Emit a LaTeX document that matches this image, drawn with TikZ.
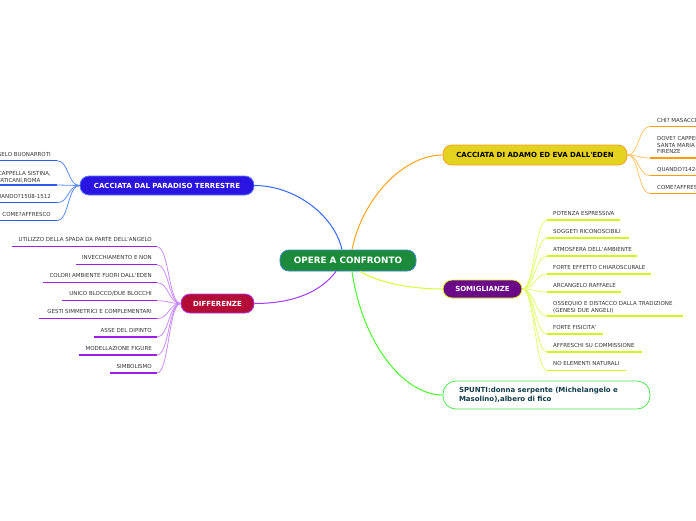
\documentclass[tikz,border=0pt]{standalone}
\usepackage{fontspec}
\setmainfont{DejaVu Sans}
\definecolor{cgreen}{HTML}{1C8A3B}
\definecolor{cgreenb}{HTML}{3C86C8}
\definecolor{pblue}{HTML}{2A14E2}
\definecolor{pblueb}{HTML}{5A78FF}
\definecolor{eyel}{HTML}{E5D21E}
\definecolor{eyelb}{HTML}{F7A21B}
\definecolor{spur}{HTML}{6B0A88}
\definecolor{spurb}{HTML}{D8F224}
\definecolor{dred}{HTML}{B30C36}
\definecolor{dredb}{HTML}{B234F2}
\definecolor{sgr}{HTML}{4CE84C}
\definecolor{stext}{HTML}{123C48}
\definecolor{subtxt}{HTML}{333333}
\definecolor{lblue}{HTML}{3366FF}
\definecolor{lbluec}{HTML}{5B8CFF}
\definecolor{lblueu}{HTML}{2A5BE8}
\definecolor{lor}{HTML}{FFA31A}
\definecolor{lorc}{HTML}{FFC46A}
\definecolor{loru}{HTML}{FF9A0A}
\definecolor{lyg}{HTML}{D4FF2E}
\definecolor{lygc}{HTML}{E2FF6A}
\definecolor{lygu}{HTML}{D2F51E}
\definecolor{lpu}{HTML}{A23BFF}
\definecolor{lpuc}{HTML}{C98BFF}
\definecolor{lpuu}{HTML}{9B1FE6}
\definecolor{lgr}{HTML}{44FF22}
\tikzset{
  topic/.style={rounded corners=9pt, font=\bfseries\fontsize{7}{8}\selectfont, text=white, line width=0.8pt, minimum height=19pt, inner sep=0pt},
  sub/.style={font=\fontsize{5.5}{6.8}\selectfont, text=subtxt, inner sep=0pt},
  uline/.style={line width=1.4pt},
  conn/.style={line width=0.8pt},
  bigconn/.style={line width=1pt}
}
\begin{document}
\begin{tikzpicture}[x=1pt,y=-1pt]
\useasboundingbox (0,0) rectangle (696,520);
\clip (0,0) rectangle (696,520);
\fill[white] (0,0) rectangle (696,520);

% main nodes
\node[topic, fill=cgreen, draw=cgreenb, minimum width=136pt, minimum height=21pt, font=\bfseries\fontsize{8.8}{10}\selectfont] (ctr) at (348,260.5) {OPERE A CONFRONTO};
\node[topic, fill=pblue, draw=pblueb, minimum width=174pt] (par) at (167,185.5) {CACCIATA DAL PARADISO TERRESTRE};
\node[topic, fill=eyel, draw=eyelb, minimum width=184pt, minimum height=20pt, text=black] (eden) at (535,155) {CACCIATA DI ADAMO ED EVA DALL\textquotesingle EDEN};
\node[topic, fill=spur, draw=spurb, minimum width=79pt, minimum height=18pt] (som) at (482.5,289) {SOMIGLIANZE};
\node[topic, fill=dred, draw=dredb, minimum width=73pt] (dif) at (217.5,303.5) {DIFFERENZE};
\node[rounded corners=13pt, draw=sgr, fill=white, line width=0.8pt, minimum width=207pt, minimum height=28pt, text width=175pt, inner xsep=16pt, inner ysep=0pt, align=left, text=stext, font=\bfseries\fontsize{7}{8.5}\selectfont] (spu) at (546.5,395) {SPUNTI:donna serpente (Michelangelo e\\Masolino),albero di fico};

% central connectors
\draw[bigconn, lblue] ([xshift=-6pt]ctr.north) .. controls +(-8,-35) and +(40,0) .. (par.east);
\draw[bigconn, lor] ([xshift=4pt]ctr.north) .. controls +(10,-50) and +(-40,0) .. (eden.west);
\draw[bigconn, lpu] ([xshift=-12pt]ctr.south) .. controls +(-15,20) and +(40,0) .. (dif.east);
\draw[bigconn, lyg] ([xshift=12pt]ctr.south) .. controls +(20,12) and +(-30,0) .. (som.west);
\draw[bigconn, lgr] ([xshift=4pt]ctr.south) .. controls +(10,70) and +(-40,0) .. (spu.west);

% Somiglianze children
\foreach \n/\uy/\ex/\t in {
  s1/220/620/{POTENZA ESPRESSIVA},
  s2/238/629/{SOGGETI RICONOSCIBILI},
  s3/256/637/{ATMOSFERA DELL\textquotesingle AMBIENTE},
  s4/274/651/{FORTE EFFETTO CHIAROSCURALE},
  s5/292/621/{ARCANGELO RAFFAELE},
  s7/334/603/{FORTE FISICITA\textquotesingle},
  s8/352/642/{AFFRESCHI SU COMMISSIONE},
  s9/370.5/626/{NO ELEMENTI NATURALI}} {
  \coordinate (\n a) at (547,\uy);
  \coordinate (\n b) at (\ex,\uy);
  \draw[conn, lygc] (som.east) .. controls +(12,0) and +(-12,0) .. (\n a);
  \draw[uline, lygu] (\n a) -- (\n b);
  \node[sub, anchor=base west] (\n) at (553,\uy-4.8) {\t};
}
\coordinate (s6a) at (547,316);
\coordinate (s6b) at (683,316);
\draw[conn, lygc] (som.east) .. controls +(12,0) and +(-12,0) .. (s6a);
\draw[uline, lygu] (s6a) -- (s6b);
\node[sub, anchor=north west, align=left] (s6) at (553,301) {OSSEQUIO E DISTACCO DALLA TRADIZIONE\\(GENESI DUE ANGELI)};

% Differenze children
\foreach \n/\uy/\sx/\t in {
  d1/246.7/12/{UTILIZZO DELLA SPADA DA PARTE DELL\textquotesingle ANGELO},
  d2/264.7/76/{INVECCHIAMENTO E NON},
  d3/282.7/43/{COLORI AMBIENTE FUORI DALL\textquotesingle EDEN},
  d4/300.7/62/{UNICO BLOCCO/DUE BLOCCHI},
  d5/318.7/39/{GESTI SIMMETRICI E COMPLEMENTARI},
  d6/337/94/{ASSE DEL DIPINTO},
  d7/355/79/{MODELLAZIONE FIGURE},
  d8/373/110/{SIMBOLISMO}} {
  \coordinate (\n a) at (157,\uy);
  \coordinate (\n b) at (\sx,\uy);
  \draw[conn, lpuc] (dif.west) .. controls +(-12,0) and +(12,0) .. (\n a);
  \draw[uline, lpuu] (\n a) -- (\n b);
  \node[sub, anchor=base east] (\n) at (152,\uy-4.8) {\t};
}

% Paradiso children
\foreach \n/\uy/\t in {
  p1/160.7/{CHI? MICHELANGELO BUONARROTI},
  p3/202.7/{QUANDO?1508-1512},
  p4/220.7/{COME?AFFRESCO}} {
  \coordinate (\n a) at (57,\uy);
  \coordinate (\n b) at (-20,\uy);
  \draw[conn, lbluec] (par.west) .. controls +(-12,0) and +(12,0) .. (\n a);
  \draw[uline, lblueu] (\n a) -- (\n b);
  \node[sub, anchor=base east] (\n) at (51,\uy-4.5) {\t};
}
\coordinate (p2a) at (57,185);
\coordinate (p2b) at (-20,185);
\draw[conn, lbluec] (par.west) .. controls +(-12,0) and +(12,0) .. (p2a);
\draw[uline, lblueu] (p2a) -- (p2b);
\node[sub, anchor=north east, align=left] (p2) at (51,171) {DOVE? CAPPELLA SISTINA,\\MUSEI VATICANI,ROMA};

% Eden children
\foreach \n/\uy/\t in {
  e1/126.5/{CHI? MASACCIO},
  e3/175.5/{QUANDO?1424-1425},
  e4/193.5/{COME?AFFRESCO}} {
  \coordinate (\n a) at (650,\uy);
  \coordinate (\n b) at (720,\uy);
  \draw[conn, lorc] (eden.east) .. controls +(12,0) and +(-12,0) .. (\n a);
  \draw[uline, loru] (\n a) -- (\n b);
  \node[sub, anchor=base west] (\n) at (657,\uy-4.5) {\t};
}
\coordinate (e2a) at (650,158);
\coordinate (e2b) at (720,158);
\draw[conn, lorc] (eden.east) .. controls +(12,0) and +(-12,0) .. (e2a);
\draw[uline, loru] (e2a) -- (e2b);
\node[sub, anchor=north west, align=left] (e2) at (657,136) {DOVE? CAPPELLA BRANCACCI,\\SANTA MARIA DEL CARMINE,\\FIRENZE};
\end{tikzpicture}
\end{document}
